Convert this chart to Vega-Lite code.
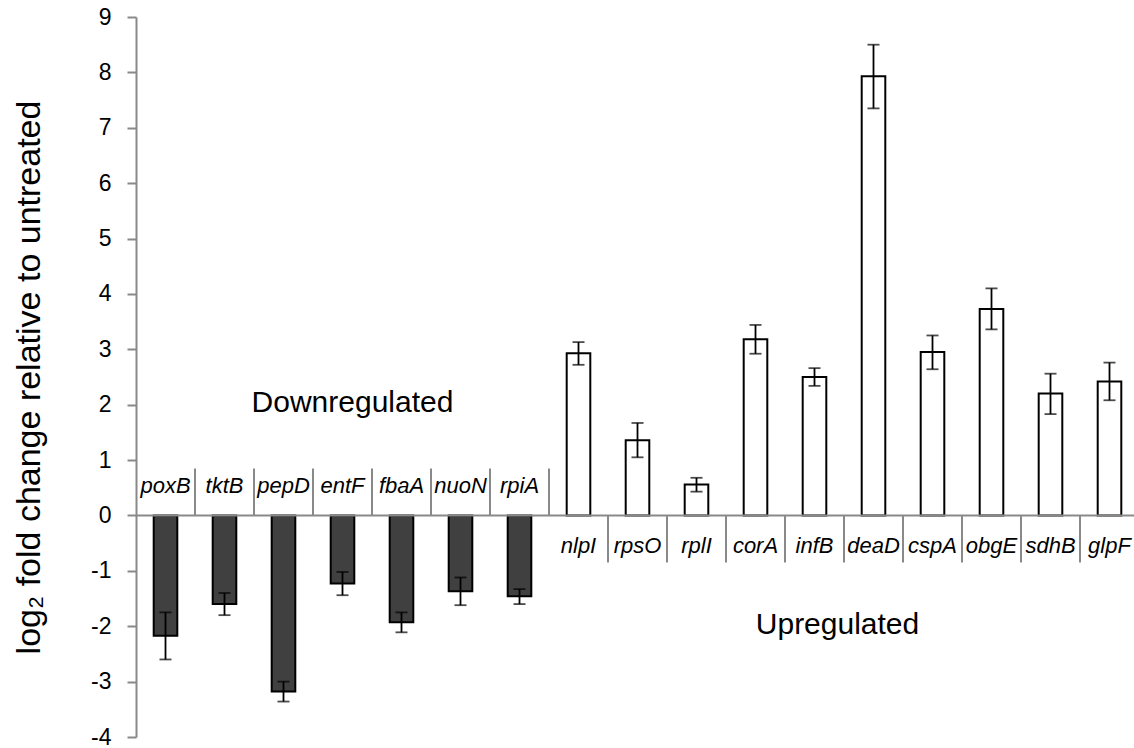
{
  "$schema": "https://vega.github.io/schema/vega-lite/v6.json",
  "width": 998,
  "height": 720,
  "autosize": "none",
  "padding": {"left": 136, "top": 17, "right": 0, "bottom": 11},
  "background": "white",
  "config": {"view": {"stroke": null}, "font": "Liberation Sans"},
  "data": {
    "values": [
      {"gene": "poxB", "group": "down", "value": -2.17, "lo": -2.60, "hi": -1.75},
      {"gene": "tktB", "group": "down", "value": -1.60, "lo": -1.80, "hi": -1.40},
      {"gene": "pepD", "group": "down", "value": -3.18, "lo": -3.36, "hi": -3.00},
      {"gene": "entF", "group": "down", "value": -1.23, "lo": -1.44, "hi": -1.02},
      {"gene": "fbaA", "group": "down", "value": -1.93, "lo": -2.11, "hi": -1.75},
      {"gene": "nuoN", "group": "down", "value": -1.37, "lo": -1.62, "hi": -1.12},
      {"gene": "rpiA", "group": "down", "value": -1.46, "lo": -1.60, "hi": -1.33},
      {"gene": "nlpI", "group": "up", "value": 2.93, "lo": 2.72, "hi": 3.13},
      {"gene": "rpsO", "group": "up", "value": 1.36, "lo": 1.05, "hi": 1.67},
      {"gene": "rplI", "group": "up", "value": 0.56, "lo": 0.43, "hi": 0.68},
      {"gene": "corA", "group": "up", "value": 3.18, "lo": 2.92, "hi": 3.44},
      {"gene": "infB", "group": "up", "value": 2.50, "lo": 2.34, "hi": 2.66},
      {"gene": "deaD", "group": "up", "value": 7.93, "lo": 7.35, "hi": 8.50},
      {"gene": "cspA", "group": "up", "value": 2.95, "lo": 2.64, "hi": 3.25},
      {"gene": "obgE", "group": "up", "value": 3.73, "lo": 3.36, "hi": 4.10},
      {"gene": "sdhB", "group": "up", "value": 2.20, "lo": 1.83, "hi": 2.56},
      {"gene": "glpF", "group": "up", "value": 2.42, "lo": 2.08, "hi": 2.76}
    ]
  },
  "resolve": {"scale": {"x": "shared", "y": "shared"}},
  "layer": [
    {
      "mark": {"type": "bar", "width": {"band": 0.4}, "stroke": "black", "strokeWidth": 2},
      "encoding": {
        "x": {"field": "gene", "type": "nominal", "sort": null, "axis": null,
              "scale": {"paddingInner": 0, "paddingOuter": 0, "range": [0, 1003]}},
        "y": {"field": "value", "type": "quantitative",
              "scale": {"domain": [-4, 9], "nice": false, "zero": false},
              "axis": {
                "values": [-4, -3, -2, -1, 0, 1, 2, 3, 4, 5, 6, 7, 8, 9],
                "labelExpr": "'' + datum.value",
                "grid": false,
                "domainColor": "#898989", "domainWidth": 2,
                "tickColor": "#898989", "tickWidth": 2, "tickSize": 9,
                "labelFontSize": 23, "labelColor": "black", "labelPadding": 16,
                "labelFont": "Liberation Sans",
                "title": "log₂ fold change relative to untreated",
                "titleFontSize": 34, "titleFontWeight": "normal", "titleColor": "black",
                "titleFont": "Liberation Sans", "titlePadding": 44
              }},
        "y2": {"datum": 0},
        "fill": {"field": "group", "type": "nominal",
                 "scale": {"domain": ["down", "up"], "range": ["#404040", "#ffffff"]},
                 "legend": null}
      }
    },
    {
      "mark": {"type": "rule", "color": "black", "strokeWidth": 1.8},
      "encoding": {
        "x": {"field": "gene", "type": "nominal", "sort": null},
        "y": {"field": "lo", "type": "quantitative"},
        "y2": {"field": "hi"}
      }
    },
    {
      "mark": {"type": "tick", "color": "black", "size": 12, "thickness": 1.8},
      "encoding": {
        "x": {"field": "gene", "type": "nominal", "sort": null},
        "y": {"field": "lo", "type": "quantitative"}
      }
    },
    {
      "mark": {"type": "tick", "color": "black", "size": 12, "thickness": 1.8},
      "encoding": {
        "x": {"field": "gene", "type": "nominal", "sort": null},
        "y": {"field": "hi", "type": "quantitative"}
      }
    },
    {
      "data": {"values": [{}]},
      "mark": {"type": "rule", "color": "#898989", "strokeWidth": 2},
      "encoding": {"y": {"datum": 0}}
    },
    {
      "transform": [{"filter": "datum.group == 'down'"}],
      "mark": {"type": "rule", "color": "#898989", "strokeWidth": 2},
      "encoding": {
        "x": {"field": "gene", "type": "nominal", "sort": null, "bandPosition": 1},
        "y": {"datum": 0},
        "y2": {"datum": 0.85}
      }
    },
    {
      "transform": [{"filter": "datum.group == 'up' && datum.gene != 'nlpI'"}],
      "mark": {"type": "rule", "color": "#898989", "strokeWidth": 2},
      "encoding": {
        "x": {"field": "gene", "type": "nominal", "sort": null, "bandPosition": 0},
        "y": {"datum": 0},
        "y2": {"datum": -0.85}
      }
    },
    {
      "transform": [{"filter": "datum.group == 'down'"}],
      "mark": {"type": "text", "fontSize": 22, "fontStyle": "italic", "baseline": "alphabetic", "dy": -22, "color": "black"},
      "encoding": {
        "x": {"field": "gene", "type": "nominal", "sort": null},
        "y": {"datum": 0},
        "text": {"field": "gene"}
      }
    },
    {
      "transform": [{"filter": "datum.group == 'up'"}],
      "mark": {"type": "text", "fontSize": 22, "fontStyle": "italic", "baseline": "alphabetic", "dy": 38, "color": "black"},
      "encoding": {
        "x": {"field": "gene", "type": "nominal", "sort": null},
        "y": {"datum": 0},
        "text": {"field": "gene"}
      }
    },
    {
      "data": {"values": [{}]},
      "mark": {"type": "text", "text": "Downregulated", "fontSize": 30, "baseline": "alphabetic", "dx": 10, "color": "black"},
      "encoding": {
        "x": {"datum": "entF"},
        "y": {"datum": 1.87}
      }
    },
    {
      "data": {"values": [{}]},
      "mark": {"type": "text", "text": "Upregulated", "fontSize": 30, "baseline": "alphabetic", "dx": 23, "color": "black"},
      "encoding": {
        "x": {"datum": "infB"},
        "y": {"datum": -2.14}
      }
    }
  ]
}
